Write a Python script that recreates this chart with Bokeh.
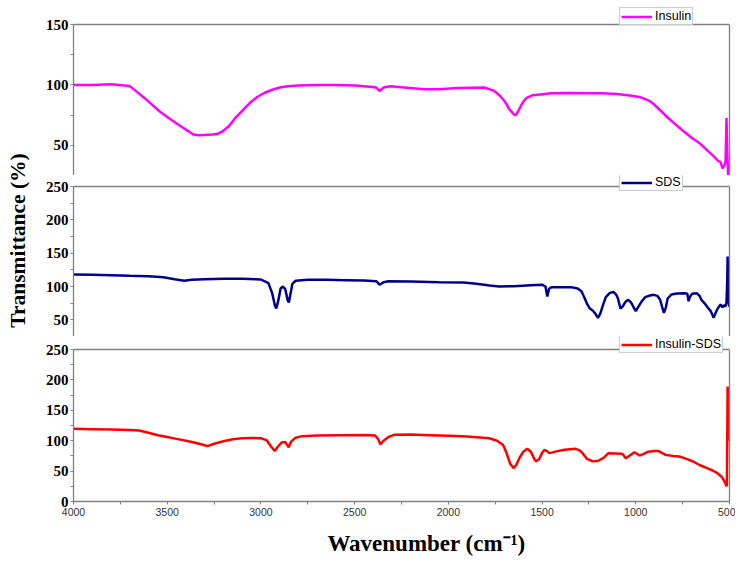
import math
from bokeh.plotting import figure
from bokeh.models import Range1d, FixedTicker, LinearAxis, Legend, LegendItem, Label, Span
from bokeh.layouts import row, column
from bokeh.embed import file_html
from bokeh.resources import INLINE

# ---------------- data ----------------
x_ticks = [4000, 3500, 3000, 2500, 2000, 1500, 1000, 500]
x_minor = [3750, 3250, 2750, 2250, 1750, 1250, 750]

ins_w = [4000, 3900, 3800, 3700, 3660, 3620, 3580, 3540, 3500, 3450,
         3400, 3360, 3330, 3300, 3260, 3230, 3200, 3170, 3140, 3100,
         3060, 3020, 2980, 2940, 2900, 2860, 2800, 2700, 2600, 2500,
         2420, 2385, 2367, 2345, 2310, 2250, 2128, 2050, 1950, 1808,
         1755, 1725, 1700, 1675, 1650, 1640, 1625, 1605, 1585, 1550,
         1450, 1350, 1250, 1186, 1100, 1020, 970, 930, 900, 870,
         830, 790, 745, 700, 654, 620, 585, 560, 548, 537,
         528, 521, 516, 512, 507, 500]
ins_t = [100, 100, 100.5, 99, 94, 89, 83.5, 78, 73.5, 68,
         63, 59, 58.3, 58.5, 59, 59.5, 62, 66, 72, 78.5,
         85, 90, 93.5, 96, 97.8, 98.8, 99.5, 100, 100, 99.5,
         98.5, 97.8, 95, 97.8, 98.8, 98, 96.4, 96.5, 97.5, 97.8,
         95, 91, 86.5, 80, 75.5, 75, 79, 85, 89, 91.5,
         93, 93.2, 93, 93, 92.5, 91, 89.5, 87, 83.5, 79,
         73, 67.5, 61.7, 56, 51, 46, 41, 37, 36, 31,
         33, 36.5, 72.5, 45, 24, 26]

sds_w = [4000, 3900, 3800, 3700, 3600, 3520, 3460, 3410, 3370, 3300,
         3200, 3100, 3000, 2960, 2940, 2925, 2918, 2908, 2895, 2883,
         2870, 2858, 2851, 2843, 2832, 2815, 2750, 2650, 2550, 2450,
         2385, 2367, 2345, 2320, 2200, 2050, 1920, 1850, 1780, 1730,
         1650, 1560, 1500, 1482, 1472, 1462, 1450, 1400, 1340, 1310,
         1290, 1275, 1260, 1245, 1230, 1215, 1202, 1190, 1175, 1160,
         1140, 1120, 1105, 1095, 1082, 1070, 1055, 1040, 1025, 1010,
         1000, 990, 970, 950, 930, 905, 885, 870, 860, 850,
         840, 830, 810, 780, 740, 725, 718, 712, 700, 675,
         660, 650, 640, 628, 615, 600, 590, 585, 575, 565,
         548, 538, 530, 522, 516, 512, 510, 507, 503, 500]
sds_t = [118, 117.5, 117, 116, 115.5, 114, 111, 108.6, 110, 111,
         111.5, 111.5, 110.5, 105, 90, 71, 67, 78, 97, 100,
         96, 80, 76, 88, 104, 108.6, 110, 110, 109.5, 109,
         108, 102.7, 106.5, 108, 107.5, 106.5, 106, 104, 101.5, 100,
         100.5, 102, 102.7, 100, 85, 97, 98.7, 99, 98.7, 97,
         93, 84, 74, 67, 64, 59, 53, 59, 72, 84,
         90, 92, 88, 82, 67, 70, 77, 80, 76, 68,
         63, 68, 77, 84, 86, 87.5, 86, 80, 70, 60.5,
         68, 82, 88, 89.5, 90, 89, 78, 84, 89, 90,
         86, 80, 77, 73, 68, 63, 57, 53, 60, 66,
         73, 69, 72, 70, 76, 110, 145, 95, 72, 70]

mix_w = [4000, 3900, 3800, 3700, 3650, 3600, 3550, 3500, 3450, 3400,
         3350, 3300, 3285, 3250, 3200, 3150, 3100, 3050, 3000, 2970,
         2945, 2926, 2910, 2890, 2871, 2860, 2852, 2840, 2815, 2780,
         2700, 2576, 2450, 2391, 2375, 2363, 2345, 2320, 2290, 2200,
         2100, 2000, 1900, 1782, 1740, 1708, 1690, 1670, 1653, 1638,
         1620, 1600, 1579, 1560, 1545, 1533, 1515, 1500, 1487, 1475,
         1459, 1430, 1380, 1321, 1300, 1284, 1260, 1229, 1200, 1170,
         1146, 1110, 1072, 1053, 1030, 1007, 980, 960, 934, 900,
         878, 841, 800, 767, 730, 694, 660, 620, 590, 565,
         540, 525, 519, 514, 510, 507, 503, 500]
mix_t = [119.5, 119, 118.5, 117.5, 116.8, 113, 109, 106, 103, 100,
         96.5, 92.5, 91, 95, 99, 102.5, 104, 104.5, 104, 101,
         90, 83, 90, 97, 98, 93, 89, 98, 105, 107.5,
         108.5, 109, 109.5, 108.5, 103, 94, 100, 106, 109.6, 110,
         109, 108, 107, 104, 100, 93, 80, 62, 55, 60,
         72, 82, 86.6, 82, 72, 66, 70, 80, 85, 83,
         79.5, 82, 85, 86.6, 84, 79.5, 70, 66, 67, 72,
         79.5, 79, 78.4, 71, 76, 81, 75.6, 78, 82, 83,
         83, 76.7, 75, 74, 70, 65.8, 60, 54.8, 51, 46.6,
         40, 32, 27.4, 25, 189, 150, 110, 100]

names = ["Insulin", "SDS", "Insulin-SDS"]
colors = ["#FF00FF", "#00008B", "#FF0000"]

AX_GRAY = "#808080"
FIG_W = 693


def make_panel(height, b_bottom, y_lo, y_hi, gap_px, yticks, yminor,
               w, t, color, name, leg_y, with_x=False):
    # axis spans y_lo..y_hi; the extra gap_px above it holds the legend box
    frame_h = height - b_bottom
    px_per_unit = (frame_h - gap_px) / (y_hi - y_lo)
    y_top = y_hi + gap_px / px_per_unit
    p = figure(width=FIG_W, height=height, output_backend="svg",
               toolbar_location=None,
               x_range=Range1d(4000, 500), y_range=Range1d(y_lo, y_top),
               x_axis_location="below" if with_x else None,
               min_border_left=29, min_border_right=6,
               min_border_top=0, min_border_bottom=b_bottom)
    p.outline_line_color = None
    p.background_fill_color = "white"
    p.border_fill_color = "white"
    p.grid.visible = False
    r = p.line(w, t, line_color=color, line_width=2.5)

    ya = p.yaxis[0]
    ya.bounds = (y_lo, y_hi)
    ya.ticker = FixedTicker(ticks=yticks, minor_ticks=yminor)
    ya.axis_line_color = AX_GRAY
    ya.axis_line_width = 1.3
    ya.major_tick_line_color = AX_GRAY
    ya.minor_tick_line_color = AX_GRAY
    ya.major_tick_out = 3
    ya.major_tick_in = 0
    ya.minor_tick_out = 3
    ya.minor_tick_in = 0
    ya.major_label_standoff = 2
    ya.major_label_text_font = "Liberation Serif"
    ya.major_label_text_font_style = "bold"
    ya.major_label_text_font_size = "15px"
    ya.major_label_text_color = "black"

    if with_x:
        xa = p.xaxis[0]
        xa.ticker = FixedTicker(ticks=x_ticks, minor_ticks=x_minor)
        xa.axis_line_color = AX_GRAY
        xa.axis_line_width = 1.3
        xa.major_tick_line_color = AX_GRAY
        xa.minor_tick_line_color = AX_GRAY
        xa.major_tick_out = 3
        xa.major_tick_in = 0
        xa.minor_tick_out = 3
        xa.minor_tick_in = 0
        xa.major_label_standoff = 3
        xa.major_label_text_font = "Liberation Sans"
        xa.major_label_text_font_size = "10.5px"
        xa.major_label_text_color = "#333333"

    ax_r = LinearAxis(ticker=FixedTicker(ticks=[]), axis_line_color=AX_GRAY,
                      axis_line_width=1.3, major_tick_out=0, major_tick_in=0,
                      minor_tick_out=0, minor_tick_in=0, major_label_standoff=0,
                      bounds=(y_lo, y_hi))
    p.add_layout(ax_r, "right")
    p.add_layout(Span(location=y_hi, dimension="width", line_color=AX_GRAY,
                      line_width=1.3))

    leg = Legend(items=[LegendItem(label=name, renderers=[r])],
                 location=(546, leg_y))
    leg.label_text_font = "Liberation Sans"
    leg.label_text_font_size = "12.5px"
    leg.label_text_color = "black"
    leg.glyph_width = 31
    leg.glyph_height = 13
    leg.label_height = 13
    leg.label_standoff = 3
    leg.padding = 1
    leg.margin = 0
    leg.spacing = 0
    leg.border_line_color = "#999999"
    leg.border_line_width = 1
    leg.background_fill_color = "white"
    leg.background_fill_alpha = 1.0
    p.add_layout(leg)
    return p


# panel 1: page y 0..175, axis top (150) at y=24
p1 = make_panel(175, 0, 25, 150, 24, [50, 100, 150], [75, 125],
                ins_w, ins_t, colors[0], names[0], 150)
# panel 2: page y 175..336, axis top (250) at y=186
p2 = make_panel(161, 0, 25, 250, 11, [50, 100, 150, 200, 250],
                [75, 125, 175, 225], sds_w, sds_t, colors[1], names[1], 145)
# panel 3: page y 336..528, axis top (250) at y=349, bottom at 501
p3 = make_panel(192, 27, 0, 250, 13, [0, 50, 100, 150, 200, 250],
                [25, 75, 125, 175, 225], mix_w, mix_t, colors[2], names[2], 148,
                with_x=True)

# x-axis title strip
px = figure(width=FIG_W, height=32, output_backend="svg", toolbar_location=None,
            x_range=Range1d(0, 1), y_range=Range1d(0, 1),
            x_axis_location=None, y_axis_location=None, min_border=0)
px.outline_line_color = None
px.grid.visible = False
xlab = Label(x=353, y=17, x_units="screen", y_units="screen",
             text="Wavenumber (cm\u207b\u00b9)", text_font="Liberation Serif",
             text_font_style="bold", text_font_size="23px",
             text_align="center", text_baseline="middle", text_color="black")
px.add_layout(xlab)

# y-axis title strip
p0 = figure(width=42, height=560, output_backend="svg", toolbar_location=None,
            x_range=Range1d(0, 1), y_range=Range1d(0, 1),
            x_axis_location=None, y_axis_location=None, min_border=0)
p0.outline_line_color = None
p0.grid.visible = False
ylab = Label(x=17.5, y=320, x_units="screen", y_units="screen",
             text="Transmittance (%)", text_font="Liberation Serif",
             text_font_style="bold", text_font_size="21.5px", angle=math.pi / 2,
             text_align="center", text_baseline="middle", text_color="black")
p0.add_layout(ylab)

layout = row(p0, column(p1, p2, p3, px))

open("out.html", "w").write(file_html(layout, INLINE))
